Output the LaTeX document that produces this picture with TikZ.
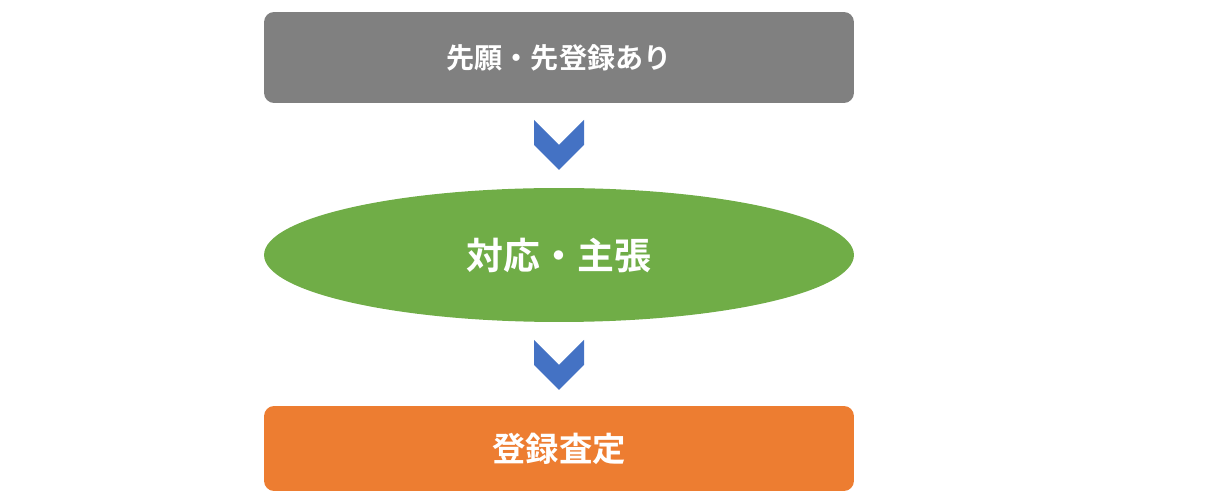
\documentclass[tikz,border=0pt]{standalone}
\usepackage{fontspec}
\newfontfamily\cjk{Noto Sans CJK JP}[BoldFont={Noto Sans CJK JP Bold}]
\usetikzlibrary{shapes.geometric}
\definecolor{cgray}{HTML}{808080}
\definecolor{cgreen}{HTML}{70AD47}
\definecolor{corange}{HTML}{ED7D31}
\definecolor{cblue}{HTML}{4472C4}
\begin{document}
\begin{tikzpicture}[x=0.02cm,y=-0.02cm,
  box/.style={rounded corners=0.2cm,minimum width=11.8cm,text=white,font=\cjk\bfseries,inner sep=0pt},
  chev/.style={fill=cblue,draw=none}]
\useasboundingbox (0,0) rectangle (1232,499);
\node[box,fill=cgray,minimum height=1.82cm,font=\cjk\bfseries\fontsize{16}{18}\selectfont] (a) at (559,57.5) {先願・先登録あり};
\node[ellipse,fill=cgreen,minimum width=11.8cm,minimum height=2.68cm,inner sep=0pt,text=white,font=\cjk\bfseries\fontsize{21}{24}\selectfont] (b) at (559,255) {対応・主張};
\node[box,fill=corange,minimum height=1.7cm,font=\cjk\bfseries\fontsize{19}{22}\selectfont] (c) at (559,448.5) {登録査定};
\fill[chev] (534,120) -- (559,145) -- (584,120) -- (584,145) -- (559,170) -- (534,145) -- cycle;
\fill[chev] (534,340) -- (559,365) -- (584,340) -- (584,365) -- (559,390) -- (534,365) -- cycle;
\end{tikzpicture}
\end{document}
